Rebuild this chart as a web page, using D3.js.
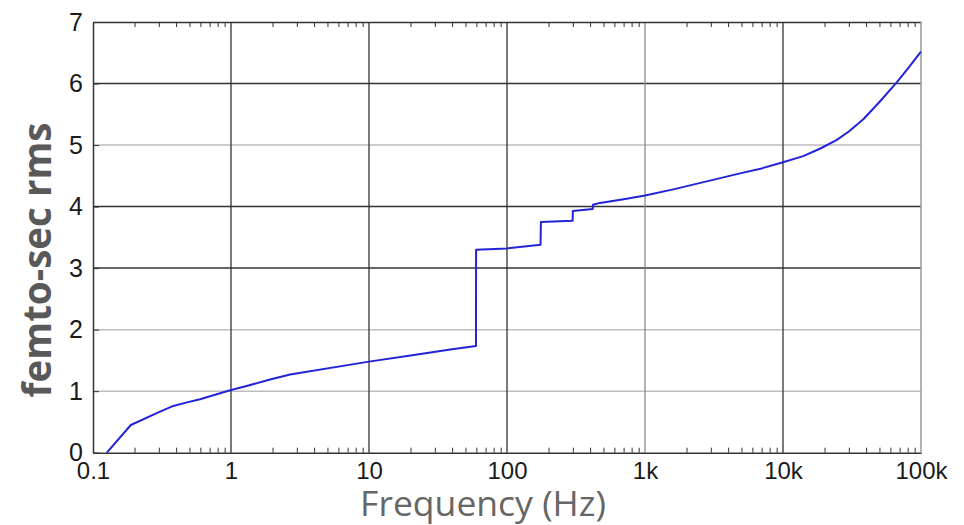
<!DOCTYPE html>
<html>
<head>
<meta charset="utf-8">
<script src="https://cdn.jsdelivr.net/npm/d3@7"></script>
<style>
  body { margin: 0; background: #fff; }
  svg { display: block; }
  .tick text { font-family: "Liberation Sans", Arial, sans-serif; }
</style>
</head>
<body>
<div id="chart"></div>
<script>
// jitter (femto-sec rms) against frequency
var freq = [0.126, 0.188, 0.306, 0.382, 0.465, 0.596, 1.0, 1.3, 1.92, 2.68, 10, 20, 40,
            59.6, 59.7, 100, 175, 176, 299, 300, 418, 420, 472, 700, 1000,
            1603, 2800, 4880, 7000, 10000, 14000, 18500, 24400, 30000, 38200, 50000,
            66700, 80000, 100000];
var femto = [0, 0.45, 0.667, 0.76, 0.81, 0.87, 1.02, 1.085, 1.19, 1.27, 1.48, 1.58, 1.68,
             1.735, 3.30, 3.32, 3.38, 3.75, 3.77, 3.93, 3.96, 4.03, 4.06, 4.12, 4.18,
             4.28, 4.41, 4.54, 4.62, 4.72, 4.82, 4.94, 5.08, 5.22, 5.42, 5.70,
             6.02, 6.24, 6.52];

var xTickValues = [0.1, 1, 10, 100, 1000, 10000, 100000];
var xTickLabels = ["0.1", "1", "10", "100", "1k", "10k", "100k"];
var yTickValues = [0, 1, 2, 3, 4, 5, 6, 7];

var width = 964, height = 525;
var margin = {left: 93, right: 43, top: 22, bottom: 72.3};

// grid line shades as they come out in the picture
var hGridColor = {1: "#bdbdbd", 2: "#bdbdbd", 3: "#333", 4: "#333", 5: "#bdbdbd", 6: "#333"};
var vGridColor = {1: "#333", 10: "#333", 100: "#333", 1000: "#8a8a8a", 10000: "#333"};

var data = freq.map(function(f, i) { return {f: f, v: femto[i]}; });

var x = d3.scaleLog()
    .domain([0.1, 100000])
    .range([margin.left, width - margin.right]);

var y = d3.scaleLinear()
    .domain([0, 7])
    .range([height - margin.bottom, margin.top]);

var svg = d3.select("#chart").append("svg")
    .attr("width", width)
    .attr("height", height);

// minor ticks 2..9 in every decade
var minor = [];
for (var d = 0.1; d < 100000; d *= 10) {
    for (var k = 2; k <= 9; k++) minor.push(d * k);
}

// horizontal grid
svg.append("g").selectAll("line")
    .data(yTickValues.filter(function(t) { return hGridColor[t]; }))
    .enter().append("line")
    .attr("x1", x.range()[0]).attr("x2", x.range()[1])
    .attr("y1", function(t) { return y(t); })
    .attr("y2", function(t) { return y(t); })
    .attr("stroke", function(t) { return hGridColor[t]; })
    .attr("stroke-width", 1.5);

// vertical grid
svg.append("g").selectAll("line")
    .data(xTickValues.filter(function(t) { return vGridColor[t]; }))
    .enter().append("line")
    .attr("x1", function(t) { return x(t); })
    .attr("x2", function(t) { return x(t); })
    .attr("y1", y.range()[0]).attr("y2", y.range()[1])
    .attr("stroke", function(t) { return vGridColor[t]; })
    .attr("stroke-width", 1.3);

// bottom axis with labels
svg.append("g")
    .attr("transform", "translate(0," + y(0) + ")")
    .call(d3.axisBottom(x).tickValues(xTickValues)
        .tickFormat(function(t, i) { return xTickLabels[i]; })
        .tickSize(0).tickPadding(9))
    .call(function(g) {
        g.select(".domain").attr("stroke", "#333").attr("stroke-width", 1.5);
        g.selectAll("text").attr("font-size", 24).attr("fill", "#1a1a1a")
            .attr("dy", "0.71em");
    });

// minor ticks bottom and top, pointing inward
svg.append("g")
    .attr("transform", "translate(0," + y(0) + ")")
    .call(d3.axisBottom(x).tickValues(minor).tickFormat("").tickSizeInner(-5).tickSizeOuter(0))
    .call(function(g) {
        g.select(".domain").remove();
        g.selectAll("line").attr("stroke", "#333");
    });

svg.append("g")
    .attr("transform", "translate(0," + y(7) + ")")
    .call(d3.axisTop(x).tickValues(minor).tickFormat("").tickSizeInner(-5).tickSizeOuter(0))
    .call(function(g) {
        g.select(".domain").attr("stroke", "#333").attr("stroke-width", 1.5);
        g.selectAll("line").attr("stroke", "#333");
    });

// left axis
svg.append("g")
    .attr("transform", "translate(" + x(0.1) + ",0)")
    .call(d3.axisLeft(y).tickValues(yTickValues).tickFormat(d3.format("d"))
        .tickSizeInner(-6).tickSizeOuter(0).tickPadding(10))
    .call(function(g) {
        g.select(".domain").attr("stroke", "#333").attr("stroke-width", 1.5);
        g.selectAll("line").attr("stroke", "#333");
        g.selectAll("text").attr("font-size", 25).attr("fill", "#1a1a1a");
    });

// right border
svg.append("line")
    .attr("x1", x(100000)).attr("x2", x(100000))
    .attr("y1", y(0)).attr("y2", y(7))
    .attr("stroke", "#999").attr("stroke-width", 1.5);

// the curve
var line = d3.line()
    .x(function(d) { return x(d.f); })
    .y(function(d) { return y(d.v); });

svg.append("path")
    .datum(data)
    .attr("fill", "none")
    .attr("stroke", "#2323d8")
    .attr("stroke-width", 2)
    .attr("stroke-linejoin", "round")
    .attr("d", line);

// titles, sized to the span they take in the picture
function fitText(sel, target) {
    sel.attr("font-size", 40);
    var len = sel.node().getComputedTextLength();
    sel.attr("font-size", 40 * target / len);
}

var xt = svg.append("text")
    .attr("x", 483).attr("y", 516)
    .attr("text-anchor", "middle")
    .attr("font-family", "'Open Sans', sans-serif")
    .attr("fill", "#666")
    .text("Frequency (Hz)");
fitText(xt, 246);

var yt = svg.append("text")
    .attr("transform", "translate(51,260) rotate(-90)")
    .attr("text-anchor", "middle")
    .attr("font-family", "'Open Sans', sans-serif")
    .attr("font-weight", "bold")
    .attr("fill", "#595959")
    .text("femto-sec rms");
fitText(yt, 275);
</script>
</body>
</html>
